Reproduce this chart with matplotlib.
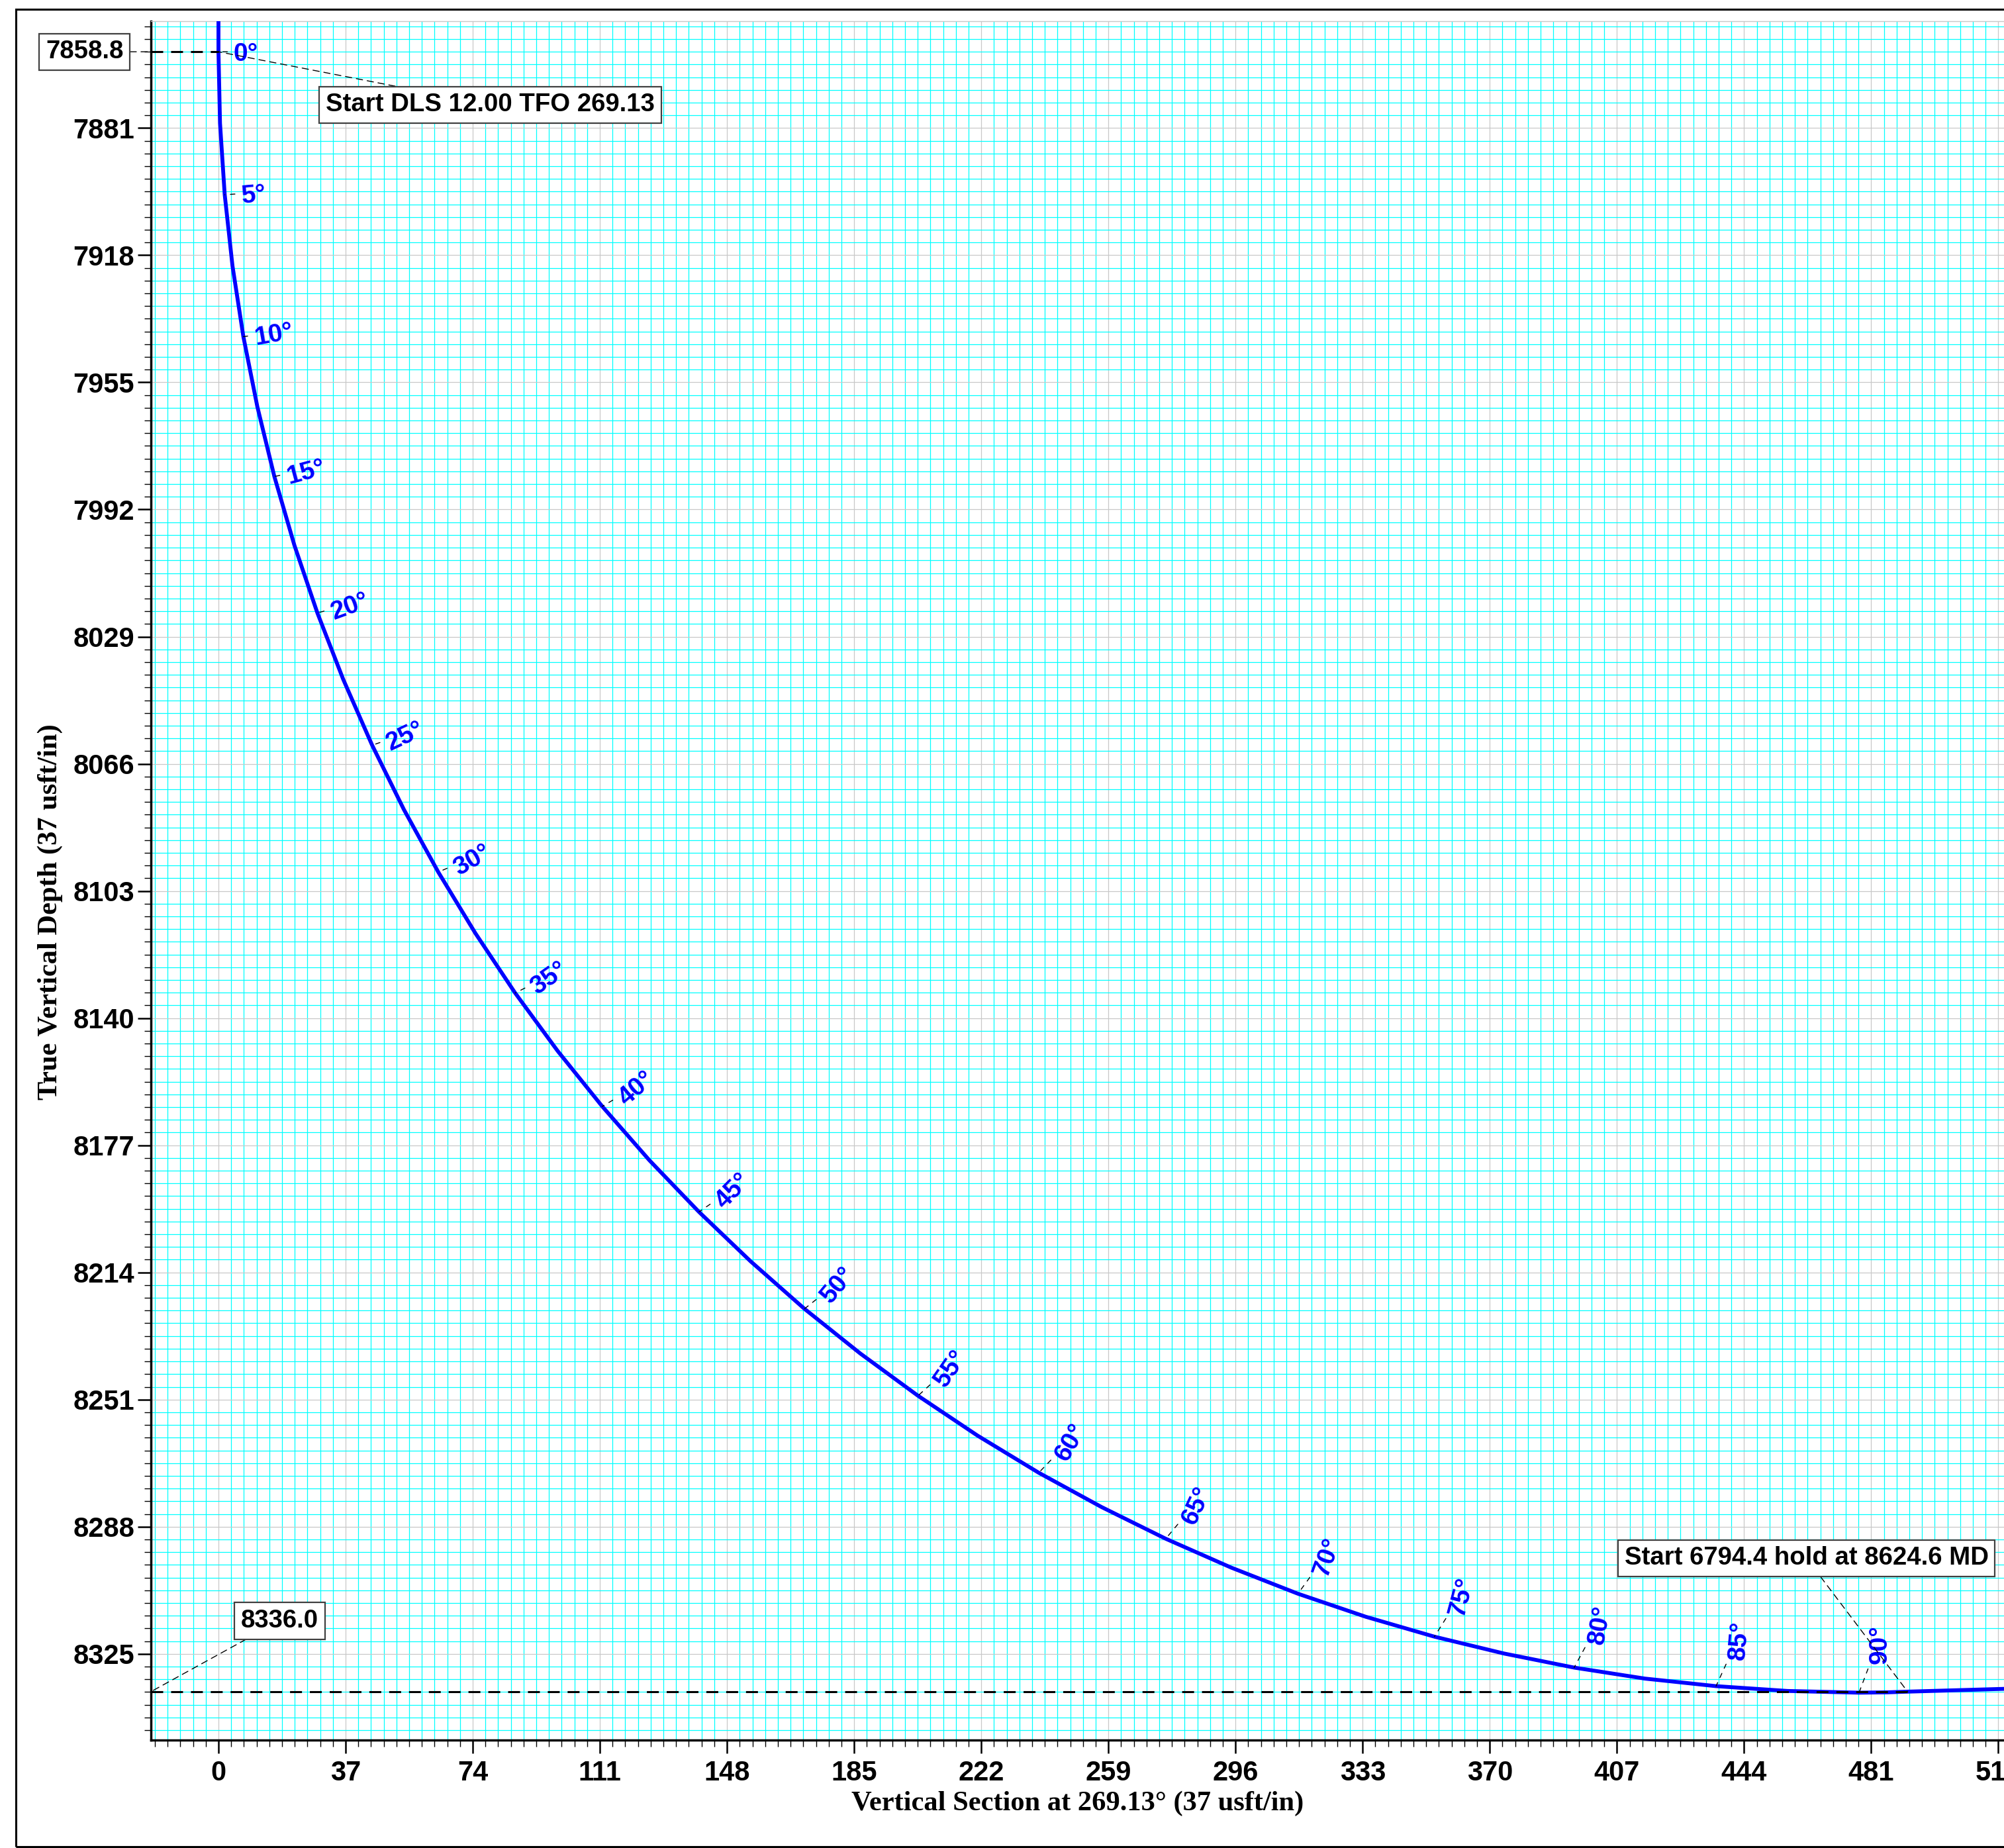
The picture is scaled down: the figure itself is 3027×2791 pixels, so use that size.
import numpy as np
import matplotlib
matplotlib.use("Agg")
import matplotlib.pyplot as plt
from matplotlib.ticker import MultipleLocator, FormatStrFormatter
from matplotlib.patches import Rectangle

# ---------------- data ----------------
# well path: vertical section (usft) and true vertical depth (usft)
path_incl = [0.0, 0.0, 2.5, 5.0, 7.5, 10.0, 12.5, 15.0, 17.5, 20.0, 22.5, 25.0, 27.5,
             30.0, 32.5, 35.0, 37.5, 40.0, 42.5, 45.0, 47.5, 50.0, 52.5, 55.0, 57.5,
             60.0, 62.5, 65.0, 67.5, 70.0, 72.5, 75.0, 77.5, 80.0, 82.5, 85.0, 87.5,
             90.0, 91.0, 91.7, 91.7]
path_vs = [0.0, 0.0, 0.45, 1.82, 4.08, 7.25, 11.32, 16.27, 22.10, 28.79, 36.34, 44.73,
           53.96, 63.97, 74.77, 86.35, 98.67, 111.70, 125.44, 139.85, 154.90, 170.55,
           186.80, 203.60, 220.93, 238.73, 257.05, 275.68, 294.74, 314.16, 333.88,
           353.88, 374.12, 394.55, 415.14, 435.85, 456.63, 477.46, 485.79, 491.6, 540.0]
path_tvd = [7840.0, 7858.8, 7879.6, 7900.4, 7921.1, 7941.7, 7962.1, 7982.4, 8002.4,
            8022.1, 8041.5, 8060.6, 8079.3, 8097.5, 8115.3, 8132.7, 8149.5, 8165.7,
            8181.4, 8196.4, 8210.8, 8224.6, 8237.6, 8249.9, 8261.5, 8272.3, 8282.3,
            8291.5, 8299.9, 8307.5, 8314.2, 8320.0, 8324.9, 8329.0, 8332.2, 8334.4,
            8335.8, 8336.3, 8336.2, 8336.0, 8334.6]

label_incl = [0, 5, 10, 15, 20, 25, 30, 35, 40, 45, 50, 55, 60, 65, 70, 75, 80, 85, 90]

kop_vs, kop_tvd = 0.0, 7858.8
hold_vs, hold_tvd = 491.6, 8336.0

ann_dls_text = "Start DLS 12.00 TFO 269.13"
ann_dls_pos = (79.1, 7874.2)
ann_hold_text = "Start 6794.4 hold at 8624.6 MD"
ann_hold_pos = (462.2, 8297.2)
ann_kop_text = "7858.8"
ann_kop_pos = (-39.0, 7858.8)
ann_land_text = "8336.0"
ann_land_pos = (17.8, 8315.4)

tick_step = 37.0
minor_step = 3.7
xlabel = "Vertical Section at 269.13\u00b0 (37 usft/in)"
ylabel = "True Vertical Depth (37 usft/in)"

# ---------------- figure ----------------
W, H, DPI = 3027, 2791, 200
PT = 72.0 / DPI  # points per pixel
plt.rcParams["font.family"] = ["Liberation Sans", "DejaVu Sans"]

fig = plt.figure(figsize=(W / DPI, H / DPI), dpi=DPI)
fig.patch.set_facecolor("white")

left_px, top_px, bottom_px = 228, 32, 2628
ax = fig.add_axes([left_px / W, 1 - bottom_px / H, 1 - left_px / W, (bottom_px - top_px) / H])
scale = 5.19  # px per usft
x0 = -19.65
ax.set_xlim(x0, x0 + (W - left_px) / scale)
y_top = 7849.9
ax.set_ylim(y_top + (bottom_px - top_px) / scale, y_top)

# grid
ax.xaxis.set_major_locator(MultipleLocator(tick_step))
ax.yaxis.set_major_locator(MultipleLocator(tick_step))
ax.xaxis.set_minor_locator(MultipleLocator(minor_step))
ax.yaxis.set_minor_locator(MultipleLocator(minor_step))
ax.xaxis.set_major_formatter(FormatStrFormatter("%d"))
ax.yaxis.set_major_formatter(FormatStrFormatter("%d"))
ax.set_axisbelow(True)
ax.grid(which="minor", color="#00FFFF", lw=0.45)
ax.grid(which="major", color="#C8C8C8", lw=0.45)

ax.spines["right"].set_visible(False)
ax.spines["top"].set_color("#C8C8C8")
ax.spines["top"].set_linewidth(0.5)
for s in ["left", "bottom"]:
    ax.spines[s].set_linewidth(1.25)
    ax.spines[s].set_color("black")

ax.tick_params(which="major", length=20 * PT, width=0.9, direction="out")
ax.tick_params(which="minor", length=10 * PT, width=0.5, direction="out")
ax.tick_params(axis="y", which="major", pad=5 * PT, labelsize=15)
ax.tick_params(axis="x", which="major", pad=10 * PT, labelsize=15)
for lab in ax.get_xticklabels() + ax.get_yticklabels():
    lab.set_fontweight("bold")

# well path
ax.plot(path_vs, path_tvd, color="#0000FF", lw=2.1, zorder=3,
        solid_capstyle="butt", solid_joinstyle="round")

# dashed reference lines
xmin = ax.get_xlim()[0]
ax.plot([xmin, kop_vs], [kop_tvd, kop_tvd], color="black", lw=1.1,
        ls=(0, (5.9, 3.9)), zorder=4)
ax.plot([xmin, hold_vs], [hold_tvd, hold_tvd], color="black", lw=1.1,
        ls=(0, (5.9, 3.9)), zorder=4)

# inclination labels
for inc in label_incl:
    i = path_incl.index(float(inc), 1)
    vs, tvd = path_vs[i], path_tvd[i]
    phi = np.radians(0.77 * inc)
    r = 41.5 + 0.4 * inc
    half = 18 if inc < 10 else 29
    lead = max(5.0, r - half - 10)
    ax.annotate("", xy=(vs, tvd), xytext=(lead * np.cos(phi) * PT, lead * np.sin(phi) * PT),
                textcoords="offset points",
                arrowprops=dict(arrowstyle="-", lw=0.5, color="black",
                                linestyle=(0, (5, 6)), shrinkA=0, shrinkB=0),
                zorder=5)
    ax.annotate(f"{inc}\u00b0", xy=(vs, tvd),
                xytext=(r * np.cos(phi) * PT, r * np.sin(phi) * PT),
                textcoords="offset points", ha="center", va="center_baseline",
                rotation=inc, rotation_mode="anchor", fontsize=14,
                fontweight="bold", color="#0000FF", zorder=6)

# boxed annotations
box = dict(boxstyle="square,pad=0.25", fc="white", ec="#404040", lw=0.8)
leader = dict(arrowstyle="-", lw=0.5, color="black", linestyle=(0, (7, 5)),
              shrinkA=0, shrinkB=0)

ax.annotate(ann_dls_text, xy=(kop_vs, kop_tvd), xytext=ann_dls_pos, textcoords="data",
            ha="center", va="center", fontsize=13.8, fontweight="bold", bbox=box,
            arrowprops=leader, zorder=7)
ax.annotate(ann_hold_text, xy=(hold_vs, hold_tvd), xytext=ann_hold_pos, textcoords="data",
            ha="center", va="center", fontsize=13.8, fontweight="bold", bbox=box,
            arrowprops=leader, zorder=7)
ax.annotate(ann_kop_text, xy=(xmin, kop_tvd), xytext=ann_kop_pos, textcoords="data",
            ha="center", va="center", fontsize=13.8, fontweight="bold", bbox=box,
            arrowprops=leader, zorder=7, annotation_clip=False)
ax.annotate(ann_land_text, xy=(xmin, hold_tvd), xytext=ann_land_pos, textcoords="data",
            ha="center", va="center", fontsize=13.8, fontweight="bold", bbox=box,
            arrowprops=leader, zorder=7, annotation_clip=False)

# axis titles
fig.text(1628 / W, 1 - 2724 / H, xlabel, ha="center", va="center", fontsize=15.3,
         fontweight="bold", family=["Liberation Serif", "DejaVu Serif"])
fig.text(76 / W, 1 - 1377 / H, ylabel, ha="center", va="center", rotation=90,
         fontsize=15.3, fontweight="bold", family=["Liberation Serif", "DejaVu Serif"])

# outer frame
fig.add_artist(Rectangle((24.5 / W, 2.0 / H), 1.5, (H - 13.5 - 2.0) / H,
                         transform=fig.transFigure, fill=False, lw=1.1,
                         ec="black", clip_on=False))

fig.savefig("out.png", dpi=DPI, facecolor="white")
